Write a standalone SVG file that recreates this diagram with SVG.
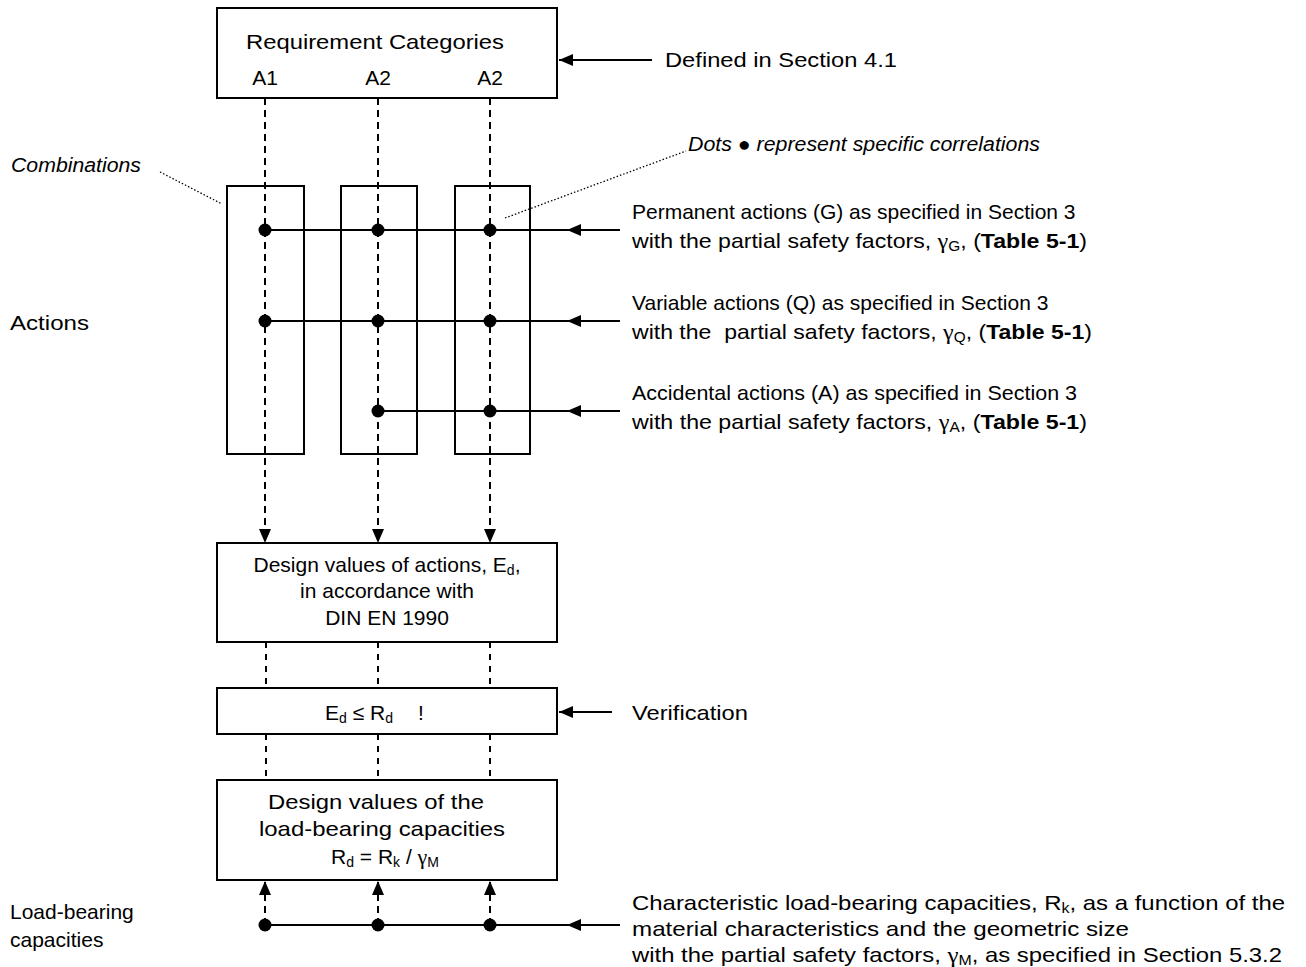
<svg xmlns="http://www.w3.org/2000/svg" width="1306" height="967" viewBox="0 0 1306 967">
<defs>
<style>
.t{font-family:"Liberation Sans",Arial,sans-serif;font-size:21px;fill:#000}
.i{font-family:"Liberation Sans",Arial,sans-serif;font-size:20px;font-style:italic;fill:#000}
.c{text-anchor:middle}
.sub{font-size:14px}
.g{font-family:"Liberation Serif","Times New Roman",serif;font-size:22px}
.box{fill:#fff;stroke:#000;stroke-width:2}
.comb{fill:none;stroke:#000;stroke-width:2}
.dash2{fill:none;stroke:#000;stroke-width:2;stroke-dasharray:6,6}
.solid{fill:none;stroke:#000;stroke-width:2}
.dot{fill:none;stroke:#000;stroke-width:1.3;stroke-dasharray:1.5,2}
.arr{fill:none;stroke:#000;stroke-width:2;marker-end:url(#ah)}
.darr{fill:none;stroke:#000;stroke-width:2;stroke-dasharray:7,5;marker-end:url(#ah)}
</style>
<marker id="ah" viewBox="0 0 14 12" refX="14" refY="6" markerWidth="14" markerHeight="12" orient="auto" markerUnits="userSpaceOnUse"><path d="M0,0 L14,6 L0,12 z" fill="#000"/></marker>
</defs>

<g id="connectors">
  <path class="darr" d="M265,98 V543"/>
  <path class="darr" d="M378,98 V543"/>
  <path class="darr" d="M490,98 V543"/>
  <path class="dash2" d="M266,642 V688"/>
  <path class="dash2" d="M378,642 V688"/>
  <path class="dash2" d="M490,642 V688"/>
  <path class="dash2" d="M266,734 V780"/>
  <path class="dash2" d="M378,734 V780"/>
  <path class="dash2" d="M490,734 V780"/>
  <path class="solid" d="M265,230 H567"/>
  <path class="arr" d="M620,230 H567"/>
  <path class="solid" d="M265,321 H567"/>
  <path class="arr" d="M620,321 H567"/>
  <path class="solid" d="M378,411 H567"/>
  <path class="arr" d="M620,411 H567"/>
  <path class="arr" d="M652,60 H559"/>
  <path class="arr" d="M612,712 H559"/>
  <path class="solid" d="M265,925 H567"/>
  <path class="arr" d="M620,925 H567"/>
  <path class="darr" d="M265,925 V881"/>
  <path class="darr" d="M378,925 V881"/>
  <path class="darr" d="M490,925 V881"/>
  <path class="dot" d="M160,172 L222,204"/>
  <path class="dot" d="M505,218 L686,151"/>
</g>

<g id="dots" fill="#000">
  <circle cx="265" cy="230" r="6.5"/>
  <circle cx="378" cy="230" r="6.5"/>
  <circle cx="490" cy="230" r="6.5"/>
  <circle cx="265" cy="321" r="6.5"/>
  <circle cx="378" cy="321" r="6.5"/>
  <circle cx="490" cy="321" r="6.5"/>
  <circle cx="378" cy="411" r="6.5"/>
  <circle cx="490" cy="411" r="6.5"/>
  <circle cx="265" cy="925" r="6.5"/>
  <circle cx="378" cy="925" r="6.5"/>
  <circle cx="490" cy="925" r="6.5"/>
</g>

<g id="combinations">
  <rect class="comb" x="227" y="186" width="77" height="268"/>
  <rect class="comb" x="341" y="186" width="76" height="268"/>
  <rect class="comb" x="455" y="186" width="75" height="268"/>
</g>

<g id="requirement-categories">
  <rect class="box" x="217" y="8" width="340" height="90"/>
  <text class="t" x="246" y="49" textLength="258" lengthAdjust="spacingAndGlyphs">Requirement Categories</text>
  <text class="t c" x="265" y="85">A1</text>
  <text class="t c" x="378" y="85">A2</text>
  <text class="t c" x="490" y="85">A2</text>
</g>

<g id="design-actions">
  <rect class="box" x="217" y="543" width="340" height="99"/>
  <text class="t c" x="387" y="572">Design values of actions, E<tspan class="sub" dy="3">d</tspan><tspan dy="-3">,</tspan></text>
  <text class="t c" x="387" y="598">in accordance with</text>
  <text class="t c" x="387" y="625">DIN EN 1990</text>
</g>

<g id="verification">
  <rect class="box" x="217" y="688" width="340" height="46"/>
  <text class="t" x="325" y="720">E<tspan class="sub" dy="3">d</tspan><tspan dy="-3"> ≤ R</tspan><tspan class="sub" dy="3">d</tspan><tspan x="418" dy="-3">!</tspan></text>
</g>

<g id="design-capacities">
  <rect class="box" x="217" y="780" width="340" height="100"/>
  <text class="t" x="268" y="809" textLength="216" lengthAdjust="spacingAndGlyphs">Design values of the</text>
  <text class="t" x="259" y="836" textLength="246" lengthAdjust="spacingAndGlyphs">load-bearing capacities</text>
  <text class="t c" x="385" y="864">R<tspan class="sub" dy="3">d</tspan><tspan dy="-3"> = R</tspan><tspan class="sub" dy="3">k</tspan><tspan dy="-3"> / </tspan><tspan class="g">γ</tspan><tspan class="sub" dy="3">M</tspan></text>
</g>

<g id="labels">
  <text class="t" x="665" y="67" textLength="232" lengthAdjust="spacingAndGlyphs">Defined in Section 4.1</text>
  <text class="i" x="11" y="172" textLength="130" lengthAdjust="spacingAndGlyphs">Combinations</text>
  <text class="i" x="688" y="151" textLength="352" lengthAdjust="spacingAndGlyphs">Dots ● represent specific correlations</text>
  <text class="t" x="10" y="330" textLength="79" lengthAdjust="spacingAndGlyphs">Actions</text>

  <text class="t" x="632" y="219">Permanent actions (G) as specified in Section 3</text>
  <text class="t" x="632" y="248" textLength="455" lengthAdjust="spacingAndGlyphs">with the partial safety factors, <tspan class="g">γ</tspan><tspan class="sub" dy="3">G</tspan><tspan dy="-3">, (</tspan><tspan font-weight="bold">Table 5-1</tspan>)</text>

  <text class="t" x="632" y="310">Variable actions (Q) as specified in Section 3</text>
  <text class="t" x="632" y="339" xml:space="preserve" textLength="460" lengthAdjust="spacingAndGlyphs">with the  partial safety factors, <tspan class="g">γ</tspan><tspan class="sub" dy="3">Q</tspan><tspan dy="-3">, (</tspan><tspan font-weight="bold">Table 5-1</tspan>)</text>

  <text class="t" x="632" y="400" textLength="445" lengthAdjust="spacingAndGlyphs">Accidental actions (A) as specified in Section 3</text>
  <text class="t" x="632" y="429" textLength="455" lengthAdjust="spacingAndGlyphs">with the partial safety factors, <tspan class="g">γ</tspan><tspan class="sub" dy="3">A</tspan><tspan dy="-3">, (</tspan><tspan font-weight="bold">Table 5-1</tspan>)</text>

  <text class="t" x="632" y="720" textLength="116" lengthAdjust="spacingAndGlyphs">Verification</text>

  <text class="t" x="10" y="919">Load-bearing</text>
  <text class="t" x="10" y="947">capacities</text>

  <text class="t" x="632" y="910" textLength="653" lengthAdjust="spacingAndGlyphs">Characteristic load-bearing capacities, R<tspan class="sub" dy="3">k</tspan><tspan dy="-3">, as a function of the</tspan></text>
  <text class="t" x="632" y="936" textLength="497" lengthAdjust="spacingAndGlyphs">material characteristics and the geometric size</text>
  <text class="t" x="632" y="962" textLength="650" lengthAdjust="spacingAndGlyphs">with the partial safety factors, <tspan class="g">γ</tspan><tspan class="sub" dy="3">M</tspan><tspan dy="-3">, as specified in Section 5.3.2</tspan></text>
</g>
</svg>
